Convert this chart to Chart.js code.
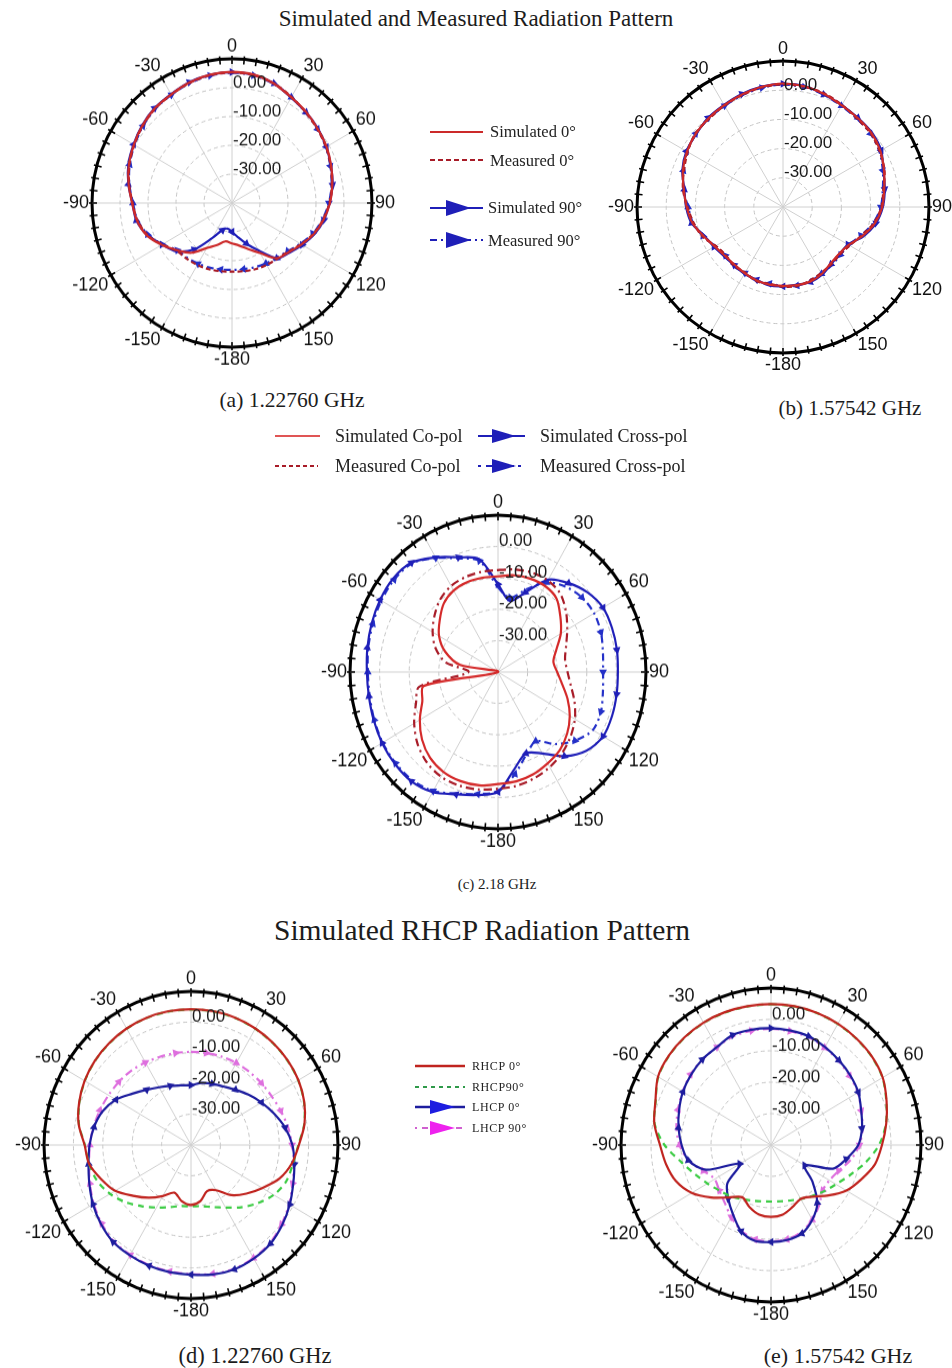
<!DOCTYPE html>
<html>
<head>
<meta charset="utf-8">
<script src="https://cdn.jsdelivr.net/npm/chart.js@4.4.1/dist/chart.umd.min.js"></script>
<style>
  html, body { margin: 0; padding: 0; background: #fff; }
  body { width: 952px; height: 1368px; position: relative; overflow: hidden;
         font-family: "Liberation Serif", "Times New Roman", serif; color: #1c1c1c; }
  .t { position: absolute; transform: translate(-50%, -50%); white-space: nowrap; }
  .plot { position: absolute; }
  .plot canvas { display: block; }
  #legends { position: absolute; left: 0; top: 0; pointer-events: none; }
</style>
</head>
<body>

<div class="t" style="left:476px;top:19px;font-size:23px">Simulated and Measured Radiation Pattern</div>
<div class="t" style="left:292px;top:400px;font-size:21.5px">(a) 1.22760 GHz</div>
<div class="t" style="left:850px;top:408px;font-size:21px">(b) 1.57542 GHz</div>
<div class="t" style="left:497px;top:884px;font-size:15px">(c) 2.18 GHz</div>
<div class="t" style="left:482px;top:930px;font-size:29.5px">Simulated RHCP Radiation Pattern</div>
<div class="t" style="left:255px;top:1356px;font-size:22.5px">(d) 1.22760 GHz</div>
<div class="t" style="left:838px;top:1356px;font-size:22px">(e) 1.57542 GHz</div>

<div class="plot" id="pa"><canvas id="ca" width="338" height="338"></canvas></div>
<div class="plot" id="pb"><canvas id="cb" width="350" height="350"></canvas></div>
<div class="plot" id="pc"><canvas id="cc" width="354" height="354"></canvas></div>
<div class="plot" id="pd"><canvas id="cd" width="353" height="353"></canvas></div>
<div class="plot" id="pe"><canvas id="ce" width="358" height="358"></canvas></div>

<svg id="legends" width="952" height="1368" font-family="Liberation Serif, Times New Roman, serif" fill="#222">
  <!-- legend (a), (b) -->
  <line x1="430" y1="132" x2="483" y2="132" stroke="#cc2a2a" stroke-width="2"/>
  <text x="490" y="137" font-size="16.5">Simulated 0°</text>
  <line x1="430" y1="160" x2="483" y2="160" stroke="#a81c28" stroke-width="2" stroke-dasharray="5 3"/>
  <text x="490" y="166" font-size="16.5">Measured 0°</text>
  <line x1="430" y1="208" x2="483" y2="208" stroke="#1f1fb8" stroke-width="2"/>
  <polygon points="446,200 471,208 446,216" fill="#1f1fb8"/>
  <text x="488" y="213" font-size="16.5">Simulated 90°</text>
  <line x1="430" y1="240" x2="483" y2="240" stroke="#1f1fb8" stroke-width="2" stroke-dasharray="7 4 2 4"/>
  <polygon points="446,232 471,240 446,248" fill="#1f1fb8"/>
  <text x="488" y="246" font-size="16.5">Measured 90°</text>

  <!-- legend (c) -->
  <line x1="275" y1="436" x2="320" y2="436" stroke="#e05555" stroke-width="2"/>
  <text x="335" y="442" font-size="18">Simulated Co-pol</text>
  <line x1="478" y1="436" x2="525" y2="436" stroke="#1f1fb8" stroke-width="2"/>
  <polygon points="492,429 516,436 492,443" fill="#1f1fb8"/>
  <text x="540" y="442" font-size="18">Simulated Cross-pol</text>
  <line x1="275" y1="466" x2="318" y2="466" stroke="#a81c28" stroke-width="2" stroke-dasharray="4 3"/>
  <text x="335" y="472" font-size="18">Measured Co-pol</text>
  <line x1="478" y1="466" x2="525" y2="466" stroke="#1f1fb8" stroke-width="2" stroke-dasharray="3 5 8 4"/>
  <polygon points="492,459 516,466 492,473" fill="#1f1fb8"/>
  <text x="540" y="472" font-size="18">Measured Cross-pol</text>

  <!-- legend (d), (e) -->
  <line x1="415" y1="1066" x2="465" y2="1066" stroke="#c0241f" stroke-width="2.5"/>
  <text x="472" y="1070" font-size="12" letter-spacing="0.6">RHCP  0°</text>
  <line x1="415" y1="1087" x2="465" y2="1087" stroke="#2f9a4a" stroke-width="2" stroke-dasharray="4 4"/>
  <text x="472" y="1091" font-size="12" letter-spacing="0.6">RHCP90°</text>
  <line x1="415" y1="1107" x2="465" y2="1107" stroke="#1d1d9e" stroke-width="2.5"/>
  <polygon points="430,1100 455,1107 430,1114" fill="#1d1de0"/>
  <text x="472" y="1111" font-size="12" letter-spacing="0.6">LHCP  0°</text>
  <line x1="415" y1="1128" x2="465" y2="1128" stroke="#d060d0" stroke-width="2" stroke-dasharray="2 5 6 4"/>
  <polygon points="430,1121 455,1128 430,1135" fill="#ee22ee"/>
  <text x="472" y="1132" font-size="12" letter-spacing="0.6">LHCP 90°</text>
</svg>

<script>
// angle categories (deg, clockwise from top) and their printed labels
const ANGLES = [0, 10, 20, 30, 40, 50, 60, 70, 80, 90, 100, 110, 120, 130, 140, 150, 160, 170,
                180, 190, 200, 210, 220, 230, 240, 250, 260, 270, 280, 290, 300, 310, 320, 330, 340, 350];
const TICK_ANGLES = [0, 30, 60, 90, 120, 150, 180, 210, 240, 270, 300, 330];
const TICK_TEXT = ['0', '30', '60', '90', '120', '150', '-180', '-150', '-120', '-90', '-60', '-30'];
const RING_VALUES = [-30, -20, -10, 0];

// (a) 1.22760 GHz
const A_SIM0  = [5.5, 5.2, 4.0, 2.3, 1.2, 0.0, -1.0, -2.3, -3.6, -5.0, -6.8, -8.8, -11.3, -13.5, -15.0, -20.0, -23.0, -25.0,
                 -26.0, -26.5, -24.5, -22.0, -17.5, -14.5, -11.0, -7.5, -5.5, -4.3, -2.5, -0.8, 0.5, 1.8, 2.9, 3.5, 4.5, 5.2];
const A_MEAS0 = [5.3, 5.0, 4.1, 2.5, 1.0, -0.2, -1.2, -2.5, -3.8, -5.2, -7.0, -9.0, -11.5, -13.8, -14.8, -15.2, -15.6, -16.0,
                 -16.2, -16.0, -15.6, -15.2, -14.8, -14.2, -11.2, -7.8, -5.7, -4.5, -2.7, -1.0, 0.3, 1.6, 2.7, 3.4, 4.3, 5.0];
const A_SIM90 = [5.4, 5.1, 4.1, 2.2, 1.1, 0.1, -1.1, -2.4, -3.5, -5.2, -6.6, -8.6, -11.0, -13.2, -15.0, -21.0, -25.0, -28.0,
                 -30.0, -31.0, -30.0, -26.0, -19.0, -14.0, -11.2, -7.7, -5.3, -4.4, -2.4, -0.6, 0.6, 1.9, 3.0, 3.6, 4.6, 5.1];
const A_MEAS90 = [5.2, 4.9, 3.9, 2.4, 0.9, -0.1, -1.3, -2.6, -3.9, -5.4, -7.2, -9.2, -11.8, -14.0, -15.2, -15.8, -16.3, -16.7,
                  -16.8, -16.6, -16.2, -15.7, -15.2, -14.5, -11.4, -8.0, -5.8, -4.6, -2.8, -1.1, 0.2, 1.5, 2.6, 3.3, 4.2, 4.9];

// (b) 1.57542 GHz
const B_SIM0  = [2.3, 2.0, 1.2, 0.2, -0.2, -0.5, -1.5, -3.2, -4.8, -6.0, -8.0, -11.0, -14.0, -15.0, -14.7, -13.5, -12.8, -12.8,
                 -13.0, -13.0, -13.3, -13.8, -14.2, -14.0, -13.0, -11.0, -8.5, -7.0, -5.5, -3.5, -2.0, -1.0, -0.3, 0.3, 1.0, 1.8];
const B_MEAS0 = [2.0, 1.8, 1.4, 0.4, -0.5, -0.8, -1.8, -3.0, -5.1, -6.3, -8.4, -11.4, -13.6, -14.6, -14.3, -13.9, -13.2, -12.5,
                 -12.7, -13.3, -13.0, -14.1, -13.8, -14.4, -13.4, -10.6, -8.9, -7.3, -5.2, -3.9, -2.3, -0.8, -0.6, 0.1, 0.8, 1.6];
const B_SIM90 = [2.2, 2.1, 1.0, 0.3, -0.1, -0.3, -1.2, -3.4, -4.6, -5.8, -7.7, -10.7, -14.3, -14.8, -14.4, -13.2, -12.6, -13.0,
                 -12.8, -12.7, -13.5, -13.6, -14.0, -13.7, -12.7, -11.3, -8.2, -6.8, -5.7, -3.3, -1.8, -1.2, -0.1, 0.4, 1.2, 1.9];
const B_MEAS90 = [1.9, 1.7, 0.9, 0.0, -0.6, -0.9, -1.9, -3.6, -5.3, -6.5, -8.6, -11.6, -14.0, -14.4, -14.0, -13.6, -12.9, -12.6,
                  -12.9, -13.4, -13.1, -13.9, -13.6, -14.2, -13.2, -10.9, -8.7, -7.5, -5.4, -3.7, -2.1, -1.0, -0.5, 0.0, 0.7, 1.5];

// (c) 2.18 GHz
const C_SIM_CO  = [-9.5, -8.7, -8.3, -8.3, -9.3, -12.5, -15.5, -19.0, -21.0, -20.0, -18.0, -15.0, -12.0, -9.5, -7.5, -6.4, -5.3, -4.6,
                   -4.3, -3.3, -3.0, -3.2, -4.3, -6.5, -9.5, -12.8, -14.5, -40.0, -27.0, -21.0, -17.0, -14.3, -11.5, -10.0, -9.5, -9.5];
const C_MEAS_CO = [-7.5, -6.8, -6.3, -6.3, -7.3, -10.0, -13.0, -15.5, -17.0, -16.5, -15.0, -12.5, -10.0, -8.0, -6.3, -5.0, -4.0, -3.2,
                   -2.8, -2.0, -1.5, -1.5, -2.5, -4.5, -7.3, -10.5, -13.0, -30.0, -22.0, -17.5, -14.5, -12.0, -9.7, -8.3, -7.8, -7.6];
const C_SIM_CX  = [-12.0, -17.0, -13.0, -6.0, -3.0, -0.5, 1.0, 1.0, 0.8, 0.5, 0.7, 1.0, 1.0, -1.0, -5.0, -10.0, -12.4, -8.5,
                   -1.8, -0.2, 1.5, 4.2, 5.5, 5.5, 5.2, 4.7, 4.3, 4.3, 4.8, 5.4, 6.0, 6.3, 5.5, 2.2, -1.1, -3.5];
const C_MEAS_CX = [-13.0, -16.0, -12.0, -7.0, -4.5, -3.0, -2.5, -3.0, -4.0, -4.5, -4.0, -3.0, -3.0, -6.0, -10.0, -14.5, -12.0, -7.0,
                   -2.0, -0.5, 1.2, 3.8, 5.0, 5.2, 5.0, 4.5, 4.0, 4.0, 4.5, 5.0, 5.5, 5.8, 5.2, 2.0, -1.5, -4.0];

// (d) 1.22760 GHz, RHCP / LHCP
const D_RHCP0  = [4.2, 4.2, 4.1, 3.8, 3.4, 2.9, 2.2, 1.0, -0.8, -3.3, -5.2, -8.0, -12.0, -15.4, -18.7, -23.0, -24.0, -21.5,
                  -20.5, -21.5, -23.5, -20.8, -17.6, -14.3, -10.2, -7.5, -4.8, -3.8, -1.2, 0.5, 1.8, 2.7, 3.3, 3.8, 4.1, 4.2];
const D_RHCP90 = [4.1, 4.1, 4.0, 3.7, 3.3, 2.8, 2.1, 0.9, -0.9, -3.5, -4.8, -5.5, -7.5, -10.5, -13.5, -16.5, -18.5, -19.8,
                  -20.0, -19.8, -18.5, -16.5, -14.0, -11.0, -8.2, -6.0, -4.8, -3.9, -1.3, 0.4, 1.7, 2.6, 3.2, 3.7, 4.0, 4.1];
const D_LHCP0  = [-20.5, -19.5, -18.8, -18.0, -16.5, -14.5, -12.3, -10.0, -7.5, -5.5, -4.3, -3.0, -1.2, 0.5, 2.0, 2.7, 3.1, 2.8,
                  2.2, 2.0, 1.8, 1.5, 1.2, 0.0, -1.5, -3.2, -4.6, -5.5, -6.5, -8.0, -10.5, -14.0, -16.5, -18.3, -19.5, -20.3];
const D_LHCP90 = [-9.7, -9.6, -9.4, -9.2, -9.0, -8.7, -8.3, -7.5, -6.5, -5.6, -4.5, -3.2, -1.5, 0.2, 1.7, 2.5, 2.9, 2.6,
                  2.0, 1.8, 1.6, 1.3, 0.9, -0.3, -1.8, -3.4, -4.8, -5.6, -6.3, -7.0, -7.6, -8.0, -8.4, -9.0, -9.4, -9.6];

// (e) 1.57542 GHz, RHCP / LHCP
const E_RHCP0  = [4.9, 4.9, 4.8, 4.6, 4.3, 3.9, 3.0, 1.0, -1.0, -3.0, -4.8, -8.0, -11.0, -15.0, -18.5, -20.2, -19.0, -17.5,
                  -17.1, -17.5, -19.0, -20.8, -18.2, -14.0, -9.5, -6.3, -4.5, -3.0, -0.5, 1.0, 3.5, 4.4, 4.8, 5.0, 5.0, 4.9];
const E_RHCP90 = [4.8, 4.8, 4.7, 4.5, 4.2, 3.8, 2.9, 0.9, -1.1, -4.0, -8.0, -12.0, -15.0, -17.0, -18.8, -20.2, -21.2, -21.8,
                  -22.0, -21.8, -21.2, -20.2, -18.8, -17.5, -15.5, -13.0, -9.5, -4.5, -0.6, 0.9, 3.4, 4.3, 4.7, 4.9, 4.9, 4.8];
const E_LHCP0  = [-2.8, -3.0, -3.2, -4.0, -4.8, -5.5, -6.4, -8.0, -9.2, -10.9, -14.5, -18.0, -27.0, -22.0, -16.0, -12.5, -10.0, -9.3,
                  -9.1, -9.0, -10.8, -14.6, -17.8, -21.0, -28.0, -17.0, -12.0, -10.2, -8.7, -7.4, -6.1, -5.2, -4.4, -4.0, -2.7, -2.7];
const E_LHCP90 = [-3.0, -3.2, -3.5, -4.2, -5.0, -5.8, -6.6, -8.0, -9.0, -10.5, -13.0, -16.0, -17.5, -17.5, -15.0, -12.5, -10.5, -9.5,
                  -9.3, -9.5, -11.0, -13.5, -16.0, -17.5, -18.3, -16.0, -12.0, -9.5, -8.0, -7.0, -6.0, -5.0, -4.5, -4.0, -3.2, -3.0];

const SANS = '"Liberation Sans", Arial, sans-serif';

// tick marks around the black rim
const rimTicks = {
  id: 'rimTicks',
  beforeDatasetsDraw(chart) {
    const s = chart.scales.r, ctx = chart.ctx, R = s.drawingArea;
    ctx.save();
    ctx.strokeStyle = '#000';
    ctx.lineWidth = 1.6;
    ctx.beginPath();
    for (let a = 0; a < 360; a += 5) {
      const t = (a - 90) * Math.PI / 180;
      ctx.moveTo(s.xCenter + Math.cos(t) * (R - 5), s.yCenter + Math.sin(t) * (R - 5));
      ctx.lineTo(s.xCenter + Math.cos(t) * (R + 3), s.yCenter + Math.sin(t) * (R + 3));
    }
    ctx.stroke();
    ctx.restore();
  }
};

// dB ring labels, written just to the right of the 0 deg spoke
const ringLabels = {
  id: 'ringLabels',
  afterDatasetsDraw(chart) {
    const s = chart.scales.r, ctx = chart.ctx;
    ctx.save();
    ctx.font = '17px ' + SANS;
    ctx.fillStyle = '#1a1a1a';
    ctx.textAlign = 'left';
    ctx.textBaseline = 'middle';
    RING_VALUES.forEach(v => {
      ctx.fillText(v.toFixed(2), s.xCenter + 1, s.yCenter - s.getDistanceFromCenterForValue(v) - 5);
    });
    ctx.restore();
  }
};

function series(data, color, dash, marker, odd) {
  return {
    data: data,
    borderColor: color,
    backgroundColor: color,
    borderWidth: 2.2,
    borderDash: dash || [],
    fill: false,
    tension: 0.3,
    pointStyle: 'triangle',
    pointRadius: marker ? (c => c.dataIndex % 2 === (odd ? 1 : 0) ? 4.5 : 0) : 0,
    pointHoverRadius: 0,
    pointRotation: c => ANGLES[c.dataIndex] + 90,
    pointBorderWidth: 0,
    pointBackgroundColor: color
  };
}

function polar(canvasId, datasets) {
  return new Chart(document.getElementById(canvasId), {
    type: 'radar',
    data: {
      labels: ANGLES.map(a => { const k = TICK_ANGLES.indexOf(a); return k < 0 ? '' : TICK_TEXT[k]; }),
      datasets: datasets
    },
    options: {
      responsive: false,
      animation: false,
      events: [],
      plugins: { legend: { display: false }, tooltip: { enabled: false } },
      scales: {
        r: {
          min: -40,
          max: 10,
          startAngle: 0,
          ticks: { stepSize: 10, display: false },
          grid: {
            circular: true,
            color: c => c.tick && c.tick.value === 10 ? '#000' : '#c4c4c4',
            lineWidth: c => c.tick && c.tick.value === 10 ? 3 : 1
          },
          border: { dash: c => c.tick && c.tick.value === 10 ? [] : [4, 3] },
          angleLines: {
            color: '#d0d0d0',
            lineWidth: c => c.index % 3 === 0 ? 1 : 0
          },
          pointLabels: { font: { family: SANS, size: 18, lineHeight: 1.0 }, color: '#111', padding: 3 }
        }
      }
    },
    plugins: [rimTicks, ringLabels]
  });
}

// place each plot so its centre lands where it sits in the figure
function place(divId, size, cx, cy, sy) {
  const d = document.getElementById(divId);
  d.style.left = (cx - size / 2 - 2) + 'px';
  d.style.top = (cy - size / 2) + 'px';
  d.style.width = size + 'px';
  d.style.height = size + 'px';
  d.style.transform = 'scaleY(' + sy + ')';
  d.style.transformOrigin = '50% 50%';
}

const RED = '#cc2a2a', RED_M = '#a81c28', BLUE = '#1f1fb8', BLUE_M = '#2430c8';
const RED_D = '#c0241f', GREEN = '#3ccc44', BLUE_D = '#1d1d9e', MAGENTA = '#de6fde';

place('pa', 338, 232, 203, 1.03);
place('pb', 350, 783, 207, 1.0);
place('pc', 354, 498, 672, 1.06);
place('pd', 353, 190, 1145, 1.045);
place('pe', 358, 771, 1145, 1.047);

polar('ca', [
  series(A_SIM0, RED),
  series(A_MEAS0, RED_M, [5, 3]),
  series(A_SIM90, BLUE, [], true),
  series(A_MEAS90, BLUE_M, [7, 4, 2, 4], true, true)
]);
polar('cb', [
  series(B_SIM0, RED),
  series(B_MEAS0, RED_M, [5, 3]),
  series(B_SIM90, BLUE, [], true),
  series(B_MEAS90, BLUE_M, [7, 4, 2, 4], true, true)
]);
polar('cc', [
  series(C_SIM_CO, '#d42a2a'),
  series(C_MEAS_CO, RED_M, [8, 4, 2, 4]),
  series(C_SIM_CX, BLUE, [], true),
  series(C_MEAS_CX, BLUE_M, [7, 4, 2, 4], true, true)
]);
polar('cd', [
  series(D_RHCP0, RED_D),
  series(D_RHCP90, GREEN, [6, 5]),
  series(D_LHCP0, BLUE_D, [], true),
  series(D_LHCP90, MAGENTA, [8, 4, 2, 4], true, true)
]);
polar('ce', [
  series(E_RHCP0, RED_D),
  series(E_RHCP90, GREEN, [6, 5]),
  series(E_LHCP0, BLUE_D, [], true),
  series(E_LHCP90, MAGENTA, [8, 4, 2, 4], true, true)
]);
</script>
</body>
</html>
